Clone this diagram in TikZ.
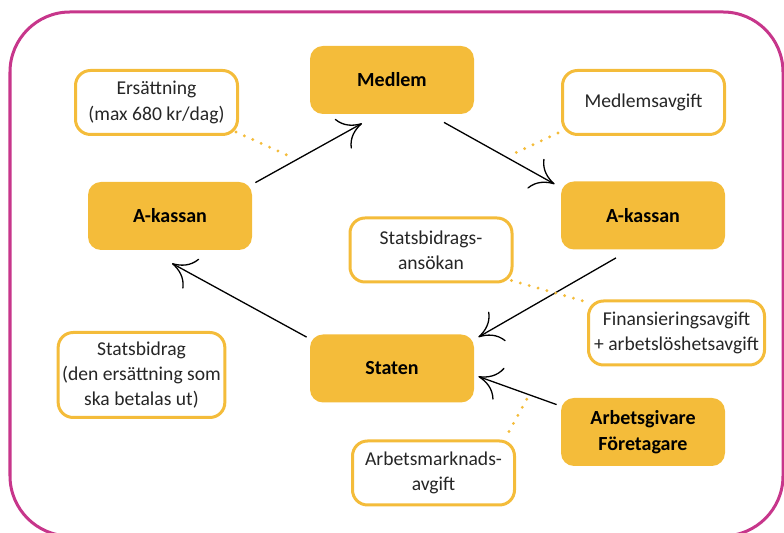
\documentclass[tikz,border=0pt]{standalone}
\usepackage{fontspec}
\setmainfont{Carlito}
\usetikzlibrary{arrows.meta}
\definecolor{gul}{HTML}{F4BC3A}
\definecolor{ram}{HTML}{C7368B}

\begin{document}
\begin{tikzpicture}[x=0.5pt, y=-0.5pt,
    aktor/.style={fill=gul, rounded corners=6.5pt, minimum width=82pt, minimum height=34pt,
        align=center, inner sep=2pt, font=\fontsize{10}{13}\selectfont\bfseries},
    post/.style={draw=gul, line width=1.5pt, fill=white, rounded corners=7.5pt, minimum width=81pt,
        minimum height=32pt, align=center, inner sep=2pt, text=black!85, font=\fontsize{9.8}{12.6}\selectfont},
    flow/.style={-{Computer Modern Rightarrow[length=11pt,width=17pt]}, line width=0.65pt},
    prick/.style={draw=gul, line width=1.6pt, line cap=round, dash pattern=on 0pt off 4.6pt}]
    \useasboundingbox (0,0) rectangle (784,533);
    \clip (0,0) rectangle (784,533);

    % Frame
    \draw[ram, line width=1.5pt, rounded corners=30pt] (10,12) rectangle (783,536);

    % Actors
    \node[aktor] (medlem) at (392,80) {Medlem};
    \node[aktor] (akL) at (170,216) {A-kassan};
    \node[aktor] (akR) at (643,215.5) {A-kassan};
    \node[aktor] (staten) at (392,368.5) {Staten};
    \node[aktor] (arbgiv) at (643,432) {Arbetsgivare\\Företagare};

    % Payments
    \node[post] (ersatt) at (156.5,102.5) {Ersättning\\(max 680 kr/dag)};
    \node[post] (mavgift) at (643.5,102.5) {Medlemsavgift};
    \node[post] (ansokan) at (431,250) {Statsbidrags-\\ansökan};
    \node[post, minimum width=88pt] (finans) at (676.5,333) {Finansieringsavgift\\+ arbetslöshetsavgift};
    \node[post, minimum height=42.5pt] (bidrag) at (141.5,375) {Statsbidrag\\(den ersättning som\\ska betalas ut)};
    \node[post] (amavgift) at (433.5,473) {Arbetsmarknads-\\avgift};

    % Money flows
    \draw[flow] ([shift={(3,1)}]akL.north east) -- ([shift={(-30,9)}]medlem.south);
    \draw[flow] ([shift={(52,8)}]medlem.south) -- ([shift={(-6,3)}]akR.north west);
    \draw[flow] ([shift={(-27,8)}]akR.south) -- ([shift={(4,3)}]staten.north east);
    \draw[flow] ([shift={(-4,7)}]arbgiv.north west) -- ([shift={(4,8)}]staten.east);
    \draw[flow] ([shift={(-3,3)}]staten.north west) -- ([shift={(2,13)}]akL.south);

    % Dotted labels
    \coordinate (p1) at (289,156);
    \coordinate (p2) at (513,154);
    \coordinate (p3) at (528,397);
    \draw[prick] ([shift={(-3,-4)}]ersatt.south east) -- (p1);
    \draw[prick] ([shift={(-3,-3)}]mavgift.south west) -- (p2);
    \draw[prick] ([shift={(-2,-3)}]ansokan.south east) -- ([shift={(-2,2)}]finans.north west);
    \draw[prick] ([shift={(-7,-8)}]amavgift.north east) -- (p3);
\end{tikzpicture}
\end{document}
